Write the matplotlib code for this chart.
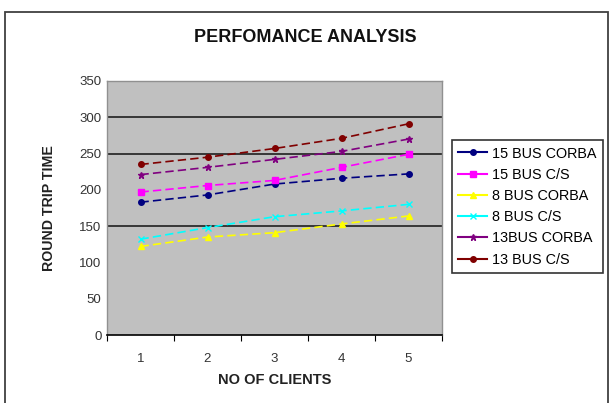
import matplotlib
matplotlib.use("Agg")
import matplotlib.pyplot as plt
from matplotlib.patches import Rectangle
import numpy as np

clients = [1, 2, 3, 4, 5]
series_names = ["15 BUS CORBA", "15 BUS C/S", "8 BUS CORBA", "8 BUS C/S", "13BUS CORBA", "13 BUS C/S"]
bus15_corba = [183, 193, 208, 216, 222]
bus15_cs = [197, 206, 213, 231, 249]
bus8_corba = [122, 135, 141, 153, 164]
bus8_cs = [132, 148, 163, 171, 180]
bus13_corba = [221, 231, 242, 253, 270]
bus13_cs = [235, 245, 257, 271, 291]
y_ticks = [0, 50, 100, 150, 200, 250, 300, 350]
grid_values = [150, 250, 300]

plt.rcParams['font.family'] = ['Liberation Sans', 'DejaVu Sans']

fig = plt.figure(figsize=(6.11, 4.03), dpi=100)
fig.patch.set_facecolor("white")

# outer chart frame
fig.add_artist(Rectangle((5/611, -0.05), 603/611, 1.05 - 12/403, transform=fig.transFigure,
                         fill=False, edgecolor="#404040", linewidth=1.3))

ax = fig.add_axes([107/611, 1 - 335/403, (442 - 107)/611, (335 - 81)/403])
ax.set_facecolor("#c0c0c0")

styles = [
    (bus15_corba, "#000080", "o", 4),
    (bus15_cs, "#ff00ff", "s", 4),
    (bus8_corba, "#ffff00", "^", 4),
    (bus8_cs, "#00ffff", "x", 5),
    (bus13_corba, "#800080", "*", 5),
    (bus13_cs, "#800000", "o", 4),
]
x = np.arange(len(clients))
handles = []
for (vals, col, mk, ms), name in zip(styles, series_names):
    ax.plot(x, vals, color=col, linestyle=(0, (5, 2.5)), linewidth=1.2,
            marker=mk, markersize=ms, markerfacecolor=col, markeredgecolor=col, zorder=3)
    h, = ax.plot([], [], color=col, linestyle="-", linewidth=1.5, marker=mk, markersize=ms,
                 markerfacecolor=col, markeredgecolor=col)
    handles.append(h)

for g in grid_values:
    ax.axhline(g, color="#202020", linewidth=1.2, zorder=1)

ax.set_xlim(-0.5, len(clients) - 0.5)
ax.set_ylim(0, 350)
ax.set_yticks(y_ticks)
ax.set_yticklabels([str(v) for v in y_ticks], fontsize=9.5, color="#333333")
ax.tick_params(axis="y", length=0, pad=4)
ax.set_xticks(np.arange(-0.5, len(clients)), minor=False)
ax.set_xticklabels([])
ax.set_xticks(x, minor=True)
ax.set_xticklabels([str(c) for c in clients], minor=True, fontsize=9.5, color="#333333")
ax.tick_params(axis="x", which="major", length=4, direction="out", color="black")
ax.tick_params(axis="x", which="minor", length=0, pad=13)

for side in ["left", "top", "right"]:
    ax.spines[side].set_color("#909090")
    ax.spines[side].set_linewidth(1.0)
ax.spines["bottom"].set_color("black")
ax.spines["bottom"].set_linewidth(1.2)

ax.set_xlabel("NO OF CLIENTS", fontsize=10.5, fontweight="bold", color="#222222", labelpad=6)
ax.set_ylabel("ROUND TRIP TIME", fontsize=10.2, fontweight="bold", color="#222222", labelpad=17)

fig.text(305/611, 1 - 37/403, "PERFOMANCE ANALYSIS", ha="center", va="center",
         fontsize=13, fontweight="bold", color="#111111")

leg = fig.legend(handles, series_names, loc="upper left", bbox_to_anchor=(452/611, 1 - 140/403),
                 frameon=True, fancybox=False, fontsize=10.4, handlelength=2.0, handletextpad=0.3,
                 borderpad=0.45, labelspacing=0.5, borderaxespad=0)
leg.get_frame().set_edgecolor("black")
leg.get_frame().set_linewidth(1.2)

fig.savefig("out.png", dpi=100, facecolor="white")
